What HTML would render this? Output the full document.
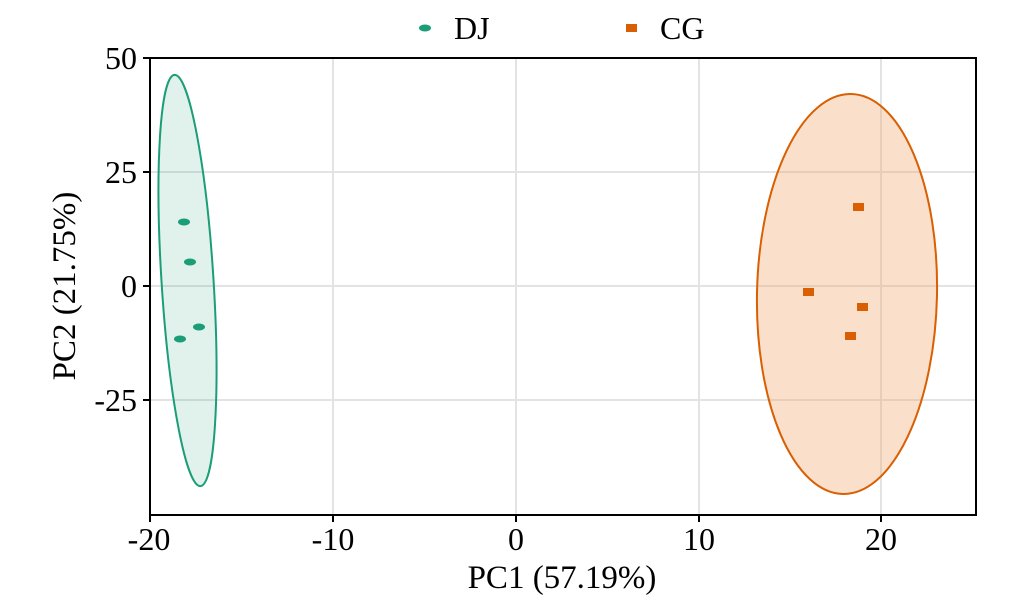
<!DOCTYPE html>
<html><head><meta charset="utf-8"><style>
html,body{margin:0;padding:0;background:#fff;}
svg{display:block;font-family:"Liberation Serif",serif;}
</style></head><body>
<svg width="1018" height="602" viewBox="0 0 1018 602" xmlns="http://www.w3.org/2000/svg">
<rect width="1018" height="602" fill="#fff"/>
<g stroke="#e3e3e3" stroke-width="2">
<line x1="333" y1="58" x2="333" y2="515"/>
<line x1="516" y1="58" x2="516" y2="515"/>
<line x1="699" y1="58" x2="699" y2="515"/>
<line x1="881" y1="58" x2="881" y2="515"/>
<line x1="150" y1="172" x2="976" y2="172"/>
<line x1="150" y1="286" x2="976" y2="286"/>
<line x1="150" y1="400" x2="976" y2="400"/>
</g>
<ellipse cx="187.5" cy="280.5" rx="26" ry="206" transform="rotate(-3.6 187.5 280.5)" fill="#1b9e77" fill-opacity="0.13" stroke="#1b9e77" stroke-width="2"/>
<ellipse cx="847" cy="294" rx="90" ry="200" transform="rotate(1.2 847 294)" fill="#f2a36b" fill-opacity="0.35" stroke="#d95f02" stroke-width="2"/>
<g fill="#1b9e77">
<ellipse cx="184" cy="222" rx="6" ry="3.5"/>
<ellipse cx="190" cy="262" rx="6" ry="3.5"/>
<ellipse cx="199" cy="327" rx="6" ry="3.5"/>
<ellipse cx="180" cy="339" rx="6" ry="3.5"/>
</g>
<g fill="#d95f02">
<rect x="853" y="203" width="11" height="8"/>
<rect x="803" y="288" width="11" height="8"/>
<rect x="857" y="303" width="11" height="8"/>
<rect x="845" y="332" width="11" height="8"/>
</g>
<rect x="150" y="58" width="826" height="457" fill="none" stroke="#000" stroke-width="2"/>
<g stroke="#000" stroke-width="2">
<line x1="150" y1="515" x2="150" y2="522"/>
<line x1="333" y1="515" x2="333" y2="522"/>
<line x1="516" y1="515" x2="516" y2="522"/>
<line x1="699" y1="515" x2="699" y2="522"/>
<line x1="881" y1="515" x2="881" y2="522"/>
<line x1="143" y1="58" x2="150" y2="58"/>
<line x1="143" y1="172" x2="150" y2="172"/>
<line x1="143" y1="286" x2="150" y2="286"/>
<line x1="143" y1="400" x2="150" y2="400"/>
</g>
<g font-size="32" fill="#000" text-anchor="middle">
<text x="149" y="550">-20</text>
<text x="333" y="550">-10</text>
<text x="516" y="550">0</text>
<text x="699" y="550">10</text>
<text x="881" y="550">20</text>
<text x="562" y="588" font-size="33">PC1 (57.19%)</text>
</g>
<g font-size="32" fill="#000" text-anchor="end">
<text x="137" y="69">50</text>
<text x="137" y="183">25</text>
<text x="137" y="297">0</text>
<text x="137" y="411">-25</text>
</g>
<text x="0" y="0" font-size="33" text-anchor="middle" transform="translate(75 286) rotate(-90)">PC2 (21.75%)</text>
<ellipse cx="425" cy="28" rx="6" ry="3.5" fill="#1b9e77"/>
<text x="454" y="39" font-size="32">DJ</text>
<rect x="626" y="24" width="11" height="8" fill="#d95f02"/>
<text x="660" y="39" font-size="32">CG</text>
</svg>
</body></html>
